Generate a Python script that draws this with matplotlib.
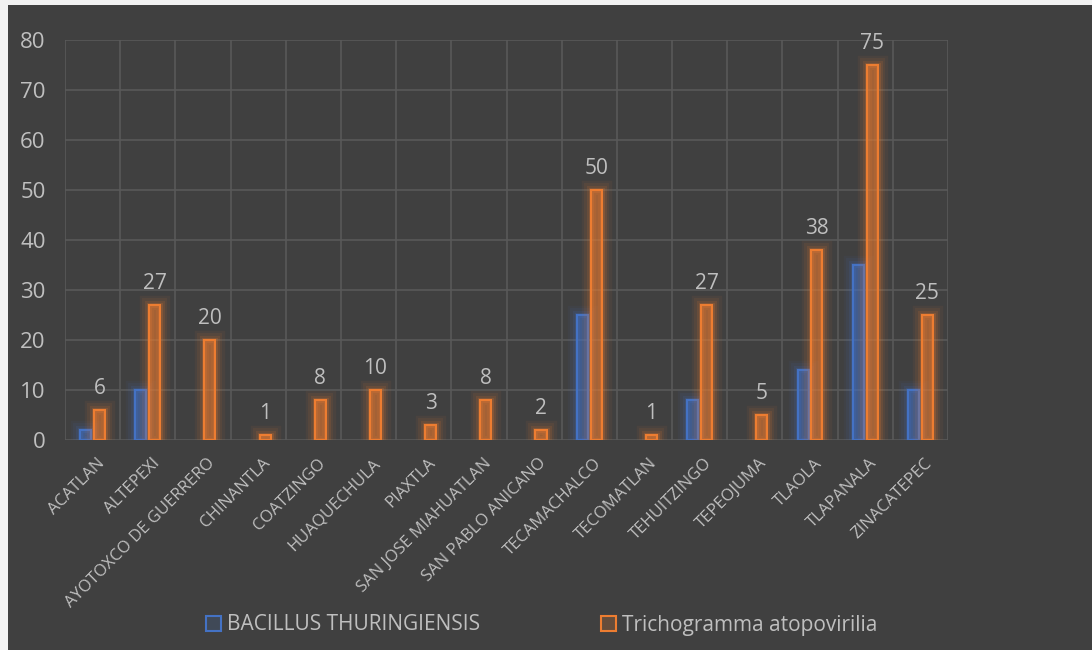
import matplotlib
matplotlib.use("Agg")
import matplotlib.pyplot as plt
import matplotlib.patheffects as pe
from matplotlib.patches import Rectangle
import numpy as np

categories = ["ACATLAN", "ALTEPEXI", "AYOTOXCO DE GUERRERO", "CHINANTLA", "COATZINGO",
              "HUAQUECHULA", "PIAXTLA", "SAN JOSE MIAHUATLAN", "SAN PABLO ANICANO",
              "TECAMACHALCO", "TECOMATLAN", "TEHUITZINGO", "TEPEOJUMA", "TLAOLA",
              "TLAPANALA", "ZINACATEPEC"]
bacillus = [2, 10, 0, 0, 0, 0, 0, 0, 0, 25, 0, 8, 0, 14, 35, 10]
tricho = [6, 27, 20, 1, 8, 10, 3, 8, 2, 50, 1, 27, 5, 38, 75, 25]
series_names = ["BACILLUS THURINGIENSIS", "Trichogramma atopovirilia"]
yticks = [0, 10, 20, 30, 40, 50, 60, 70, 80]

plt.rcParams['font.family'] = ['Open Sans', 'DejaVu Sans']
BG = "#404040"
TXT = "#bfbfbf"
BLUE = "#4472c4"
ORANGE = "#ed7d31"

fig = plt.figure(figsize=(10.92, 6.5), dpi=100, facecolor="#f2f2f2")
fig.patches.append(Rectangle((8/1092, 0), 1 - 8/1092, 1 - 5/650, transform=fig.transFigure,
                             facecolor=BG, edgecolor="none", zorder=-5))
ax = fig.add_axes([65/1092, 1 - 440/650, (948-65)/1092, 400/650])
ax.set_zorder(1)
ax.set_facecolor(BG)
ax.patch.set_alpha(0)

x = np.arange(len(categories))
w = 0.2
off = 0.125

def glow(color):
    return [pe.Stroke(linewidth=14, foreground=color, alpha=0.06),
            pe.Stroke(linewidth=10, foreground=color, alpha=0.08),
            pe.Stroke(linewidth=6.5, foreground=color, alpha=0.12),
            pe.Stroke(linewidth=3.5, foreground=color, alpha=0.2),
            pe.Normal()]

for xi, v in zip(x, bacillus):
    if v > 0:
        b = ax.bar(xi - off, v, w, facecolor=(0.267, 0.447, 0.769, 0.18), edgecolor=BLUE,
                   linewidth=1.5, zorder=3)
        b[0].set_path_effects(glow(BLUE))
for xi, v in zip(x, tricho):
    b = ax.bar(xi + off, v, w, facecolor=(0.929, 0.49, 0.192, 0.22), edgecolor=ORANGE,
               linewidth=1.5, zorder=3)
    b[0].set_path_effects(glow(ORANGE))
    ax.annotate(str(v), (xi + off, v), xytext=(0, 8), textcoords="offset points",
                ha="center", va="bottom", color=TXT, fontsize=15)

ax.set_xlim(-0.5, len(categories) - 0.5)
ax.set_ylim(0, 80)
ax.set_yticks(yticks)
ax.set_yticklabels([str(t) for t in yticks], color=TXT, fontsize=16)
ax.set_xticks(x)
ax.set_xticklabels(categories, rotation=45, ha="right", rotation_mode="anchor",
                   color=TXT, fontsize=12)
ax.set_xticks(np.arange(-0.5, len(categories), 1), minor=True)
ax.tick_params(axis="both", which="both", length=0)
ax.tick_params(axis="y", pad=14)
ax.tick_params(axis="x", pad=11)
ax.grid(axis="y", which="major", color="#595959", linewidth=1.2, zorder=1)
ax.grid(axis="x", which="minor", color="#595959", linewidth=1.2, zorder=1)
ax.grid(axis="x", which="major", visible=False)
for s in ax.spines.values():
    s.set_visible(False)
for lbl in ax.get_xticklabels():
    lbl.set_transform(lbl.get_transform() + matplotlib.transforms.ScaledTranslation(4/100, 0, fig.dpi_scale_trans))

# legend
h1 = Rectangle((0, 0), 1, 1, facecolor=(0.267, 0.447, 0.769, 0.18), edgecolor=BLUE, linewidth=1.5)
h2 = Rectangle((0, 0), 1, 1, facecolor=(0.929, 0.49, 0.192, 0.22), edgecolor=ORANGE, linewidth=1.5)
leg = fig.legend([h1, h2], series_names, loc="center", bbox_to_anchor=(0.496, 1 - 625/650),
                 ncol=2, frameon=False, fontsize=15, labelcolor=TXT, handlelength=0.7,
                 handleheight=0.7, handletextpad=0.3, columnspacing=5.8)

fig.savefig("out.png", dpi=100, facecolor=fig.get_facecolor())
